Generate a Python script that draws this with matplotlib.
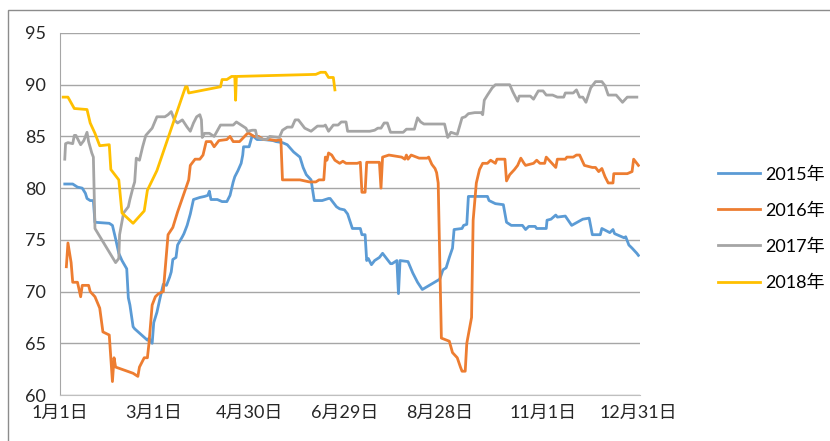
import matplotlib
matplotlib.use("Agg")
import matplotlib.pyplot as plt
from matplotlib.patches import Rectangle

plt.rcParams['font.family'] = ['Lato', 'Noto Sans CJK SC', 'DejaVu Sans']

# x = day of year (0 = 1月1日)
days_2015 = [3, 8, 11, 14, 16, 17, 19, 21, 22, 31, 33, 35, 37, 39, 42, 43, 44, 46, 47, 55, 56, 58,
             59, 61, 63, 65, 67, 69, 70, 71, 73, 74, 77, 78, 80, 82, 83, 84, 88, 91, 93, 94, 95, 99,
             102, 105, 107, 109, 110, 112, 114, 115, 115.5, 119, 121, 124, 128, 134, 136, 140, 143,
             147, 151, 153, 155, 158, 160, 165, 169, 170, 172, 174, 176, 179, 181, 184, 189, 190,
             192, 193, 194, 196, 198, 201, 203, 208, 209, 212, 213, 214, 219, 222, 225, 228, 239,
             241, 243, 245, 247, 248, 253, 254, 256, 257, 263, 269, 270, 274, 279, 281, 284, 291,
             293, 295, 299, 300, 306, 306.5, 309, 312, 313, 318, 322, 329, 333, 335, 340, 341, 346,
             348, 349, 355, 356, 358, 360, 363, 364]
vals_2015 = [80.4, 80.4, 80.1, 80.0, 79.5, 79.0, 78.8, 78.8, 76.7, 76.6, 76.4, 75.1, 73.7, 73.0, 72.2,
             69.4, 68.7, 66.6, 66.4, 65.3, 65.5, 65.0, 67.0, 68.0, 69.4, 70.7, 70.6, 71.4, 71.9, 73.1,
             73.3, 74.5, 75.3, 75.6, 76.4, 77.5, 78.2, 78.9, 79.1, 79.2, 79.3, 79.7, 78.9, 78.9, 78.7,
             78.7, 79.3, 80.6, 81.1, 81.7, 82.4, 83.2, 84.0, 84.0, 85.1, 84.7, 84.7, 84.6, 84.5, 84.4,
             84.2, 83.5, 83.0, 82.0, 81.3, 80.8, 78.8, 78.8, 79.0, 79.0, 78.6, 78.2, 78.0, 77.9, 77.5,
             76.1, 76.1, 75.5, 75.5, 73.0, 73.2, 72.6, 73.0, 73.3, 73.7, 72.7, 72.7, 73.0, 69.8, 73.0,
             72.9, 71.8, 70.9, 70.2, 71.2, 72.1, 72.3, 73.3, 74.2, 76.0, 76.1, 76.4, 76.5, 79.2, 79.2,
             79.2, 78.8, 78.5, 78.4, 76.7, 76.4, 76.4, 76.0, 76.3, 76.3, 76.1, 76.1, 76.9, 77.0, 77.4,
             77.2, 77.3, 76.4, 77.0, 77.1, 75.5, 75.5, 76.1, 75.7, 76.0, 75.6, 75.2, 75.3, 74.5, 74.2,
             73.7, 73.5]

days_2016 = [4, 5, 7, 8, 11, 13, 14, 18, 19, 22, 25, 27, 31, 33, 34, 35, 46, 49, 50, 53, 55, 56, 58,
             60, 62, 65, 68, 71, 74, 81, 82, 85, 88, 90, 92, 95, 97, 100, 105, 107, 109, 113, 118,
             119, 122, 125, 128, 132, 136, 139, 140, 151, 157, 161, 163, 166, 167, 168, 169, 171,
             173, 176, 178, 180, 187, 189, 190, 192, 193, 201, 202, 203, 207, 215, 217, 218, 219,
             221, 226, 231, 232, 234, 236, 237, 238, 240, 245, 247, 250, 252, 253, 255, 256, 259,
             260, 262, 264, 266, 269, 271, 274, 275, 280, 281, 283, 286, 288, 290, 292, 293, 298,
             300, 302, 305, 306, 309, 312, 313, 318, 319, 323, 325, 327, 330, 335, 337, 339, 341,
             343, 345, 348, 348.5, 357, 360, 361, 363, 364]
vals_2016 = [72.4, 74.7, 72.8, 70.9, 70.9, 69.5, 70.6, 70.6, 70.0, 69.5, 68.4, 66.1, 65.8, 61.3, 63.6,
             62.7, 62.1, 61.8, 62.7, 63.6, 63.6, 65.0, 68.7, 69.5, 69.8, 70.0, 75.5, 76.2, 77.7, 80.8,
             82.2, 82.8, 82.8, 83.2, 84.5, 84.5, 84.0, 84.6, 84.7, 85.0, 84.5, 84.5, 85.3, 85.3, 85.0,
             85.0, 84.7, 84.7, 84.6, 84.7, 80.8, 80.8, 80.6, 80.6, 80.8, 80.8, 83.0, 82.7, 83.4, 83.2,
             82.7, 82.4, 82.6, 82.4, 82.4, 82.5, 79.6, 79.6, 82.5, 82.5, 80.0, 83.0, 83.2, 83.0, 82.8,
             83.2, 82.8, 83.2, 82.9, 82.9, 83.0, 82.3, 81.9, 81.5, 80.5, 65.5, 65.2, 64.1, 63.6, 62.7,
             62.3, 62.3, 65.0, 67.5, 76.9, 80.5, 81.8, 82.4, 82.4, 82.7, 82.4, 82.8, 82.8, 80.7, 81.3,
             81.8, 82.2, 82.9, 82.4, 82.2, 82.4, 82.7, 82.4, 82.4, 83.0, 82.5, 82.0, 82.8, 82.8, 83.0,
             83.0, 83.2, 83.2, 82.2, 82.0, 82.0, 81.6, 81.9, 81.1, 80.5, 80.5, 81.4, 81.4, 81.6, 82.8,
             82.4, 82.2]

days_2017 = [3, 3.5, 5, 8, 9, 10, 13, 15, 17, 18, 20, 21, 22, 35, 37, 37.5, 40, 43, 44, 46, 47, 48,
             50, 52, 54, 58, 61, 66, 68, 70, 72, 74, 77, 80, 82, 84, 86, 88, 89, 89.5, 91, 94, 97,
             101, 109, 111, 114, 117, 118, 121, 123, 124, 128, 130, 132, 138, 140, 143, 146, 148,
             150, 152, 154, 158, 162, 166, 167, 169, 172, 175, 177, 180, 181, 195, 198, 200, 202,
             204, 206, 208, 216, 218, 223, 225, 227, 229, 242, 244, 246, 250, 253, 255, 257, 261,
             265, 266, 267, 269, 272, 274, 283, 285, 288, 289, 296, 298, 301, 304, 306, 310, 313,
             317, 318, 323, 325, 327, 329, 331, 334, 337, 341, 343, 345, 350, 354, 357, 363]
vals_2017 = [82.8, 84.3, 84.4, 84.3, 85.1, 85.1, 84.2, 84.6, 85.4, 84.5, 83.4, 83.0, 76.1, 72.8, 73.2,
             75.5, 77.6, 78.2, 78.9, 80.1, 80.6, 82.9, 82.7, 84.0, 85.1, 85.8, 86.9, 86.9, 87.1, 87.4,
             86.6, 86.3, 86.6, 85.9, 85.5, 86.3, 86.9, 87.1, 86.6, 84.9, 85.3, 85.3, 85.0, 86.1, 86.1,
             86.4, 86.1, 85.8, 85.5, 85.6, 85.6, 84.9, 84.7, 84.7, 85.0, 84.9, 85.6, 85.9, 85.9, 86.6,
             86.6, 86.2, 85.8, 85.5, 86.0, 86.0, 86.1, 85.5, 86.1, 86.1, 86.4, 86.4, 85.5, 85.5, 85.6,
             85.8, 85.8, 86.3, 86.3, 85.4, 85.4, 85.7, 85.7, 86.8, 86.4, 86.2, 86.2, 84.9, 85.4, 85.2,
             86.8, 86.9, 87.2, 87.3, 87.3, 87.1, 88.5, 89.0, 89.7, 90.0, 90.0, 89.3, 88.4, 88.9, 88.9,
             88.6, 89.4, 89.4, 89.0, 89.0, 88.8, 88.8, 89.2, 89.2, 89.5, 88.8, 88.8, 88.3, 89.7, 90.3,
             90.3, 89.9, 89.0, 89.0, 88.3, 88.8, 88.8]

days_2018 = [2, 5, 9, 17, 19, 22, 25, 31, 32, 36, 37, 39, 46, 53, 55, 61, 79, 80, 81, 101, 102, 105,
             108, 110, 110.5, 111, 161, 164, 167, 169, 172, 173]
vals_2018 = [88.8, 88.8, 87.7, 87.6, 86.3, 85.3, 84.1, 84.2, 81.8, 81.0, 80.8, 77.6, 76.6, 77.8, 79.8,
             81.7, 89.8, 89.8, 89.2, 89.8, 90.5, 90.5, 90.8, 90.8, 88.5, 90.8, 91.0, 91.2, 91.2, 90.7,
             90.7, 89.5]

tick_days = [0, 59, 119, 179, 239, 304, 364]
tick_labels = ['1月1日', '3月1日', '4月30日', '6月29日', '8月28日', '11月1日', '12月31日']

series = [
    ('2015年', days_2015, vals_2015, '#5B9BD5'),
    ('2016年', days_2016, vals_2016, '#ED7D31'),
    ('2017年', days_2017, vals_2017, '#A5A5A5'),
    ('2018年', days_2018, vals_2018, '#FFC000'),
]

fig = plt.figure(figsize=(8.3, 4.41), dpi=100)
ax = fig.add_axes([60 / 830, 46 / 441, 580 / 830, 362 / 441])

for name, d, v, c in series:
    ax.plot(d, v, color=c, lw=2.0, label=name, solid_joinstyle='round')

ax.set_xlim(0, 365)
ax.set_ylim(60, 95)
ax.set_yticks(range(60, 96, 5))
ax.set_xticks(tick_days)
ax.set_xticklabels(tick_labels)
ax.tick_params(length=0, labelsize=13, colors='#262626')
ax.tick_params(axis='y', pad=10)
ax.tick_params(axis='x', pad=7)
ax.grid(axis='y', color='#A6A6A6', lw=1)
ax.set_axisbelow(True)
for s in ['top', 'right']:
    ax.spines[s].set_visible(False)
ax.spines['left'].set_color('#A6A6A6')
ax.spines['bottom'].set_color('#BFBFBF')

ax.legend(loc='upper left', bbox_to_anchor=(702 / 830, 1 - 150 / 441),
          bbox_transform=fig.transFigure, frameon=False, fontsize=13,
          handlelength=2.3, handletextpad=0.3, labelspacing=1.1)

fig.patches.append(Rectangle((8 / 830, -0.1), 1.2, 1.1 - 10 / 441, transform=fig.transFigure,
                             fill=False, edgecolor='#8C8C8C', lw=1))

fig.savefig('out.png', dpi=100)
